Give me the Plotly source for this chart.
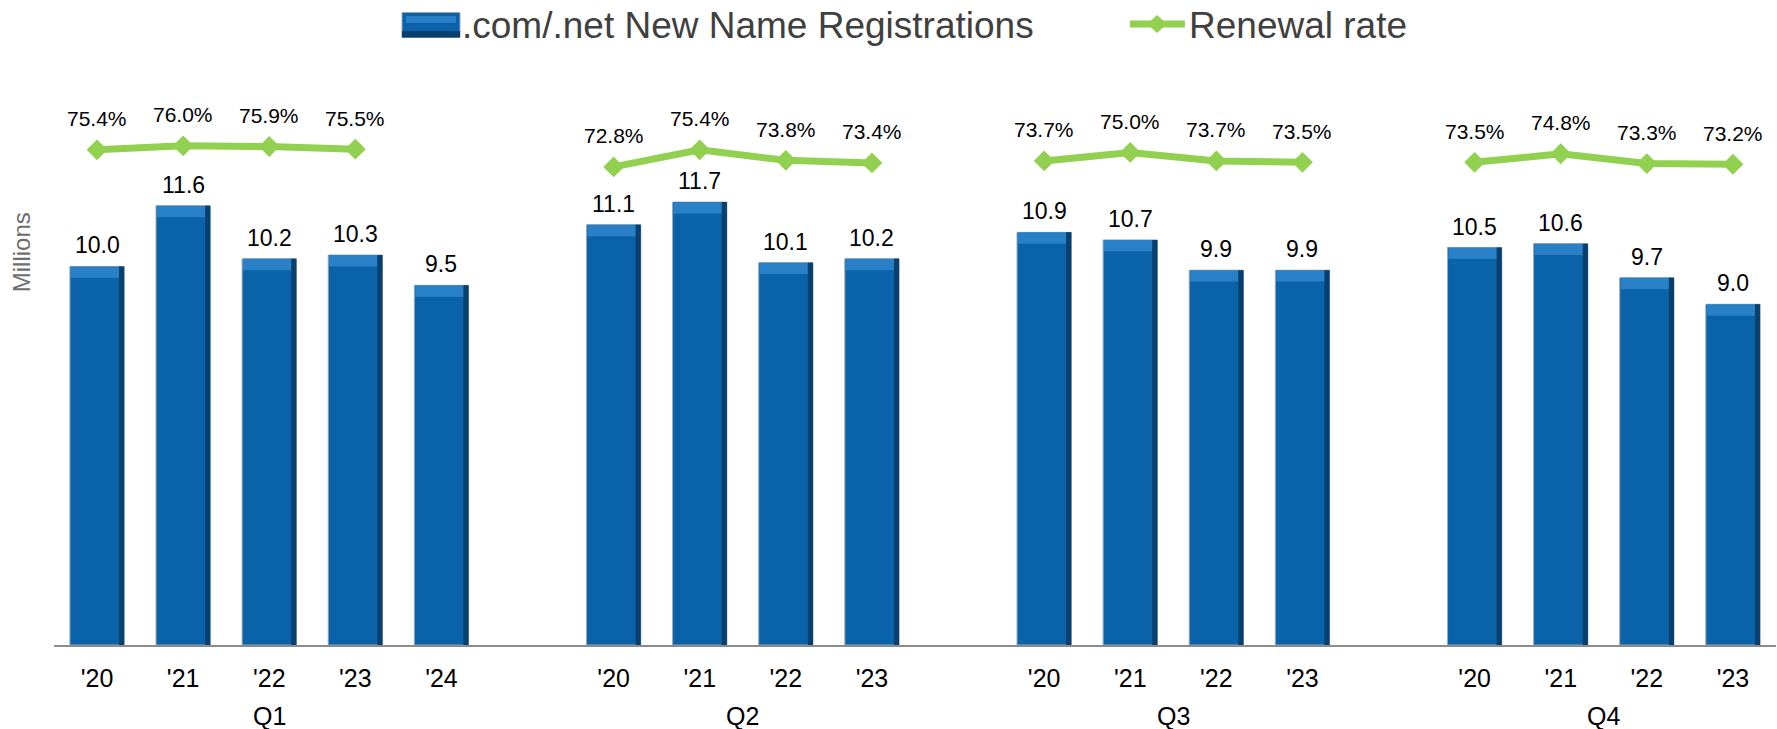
import plotly.graph_objects as go

# ---------------- data ----------------
quarters = ["Q1", "Q2", "Q3", "Q4"]
years_q1 = ["'20", "'21", "'22", "'23", "'24"]
years_q2 = ["'20", "'21", "'22", "'23"]
years_q3 = ["'20", "'21", "'22", "'23"]
years_q4 = ["'20", "'21", "'22", "'23"]

new_regs_q1 = [10.0, 11.6, 10.2, 10.3, 9.5]
new_regs_q2 = [11.1, 11.7, 10.1, 10.2]
new_regs_q3 = [10.9, 10.7, 9.9, 9.9]
new_regs_q4 = [10.5, 10.6, 9.7, 9.0]

renewal_q1 = [75.4, 76.0, 75.9, 75.5, None]
renewal_q2 = [72.8, 75.4, 73.8, 73.4]
renewal_q3 = [73.7, 75.0, 73.7, 73.5]
renewal_q4 = [73.5, 74.8, 73.3, 73.2]

bar_name = ".com/.net New Name Registrations"
line_name = "Renewal rate"
y_title = "Millions"

# ---------------- layout of category slots ----------------
groups = [
    (years_q1, new_regs_q1, renewal_q1),
    (years_q2, new_regs_q2, renewal_q2),
    (years_q3, new_regs_q3, renewal_q3),
    (years_q4, new_regs_q4, renewal_q4),
]
GAP = 1
xs, tick_text, bar_vals, line_x, line_y = [], [], [], [], []
group_slots = []
pos = 0
for gi, (yrs, vals, ren) in enumerate(groups):
    slots = []
    for yr, v, r in zip(yrs, vals, ren):
        xs.append(pos)
        tick_text.append(yr)
        bar_vals.append(v)
        line_x.append(pos)
        line_y.append(r)
        slots.append(pos)
        pos += 1
    group_slots.append(slots)
    line_x.append(pos)          # break the line between quarters
    line_y.append(None)
    pos += GAP
n_slots = pos - GAP

FONT = "Liberation Sans, Arial, sans-serif"
BAR_W = 0.63
BLUE = "#0A63A9"
LIGHT = "#2A80C6"
DARK = "#073F6E"
GREEN = "#92D050"

W, H = 1777, 729
ML, MR, MT, MB = 54, 1, 115, 84
PW, PH = W - ML - MR, H - MT - MB


def px(xp):
    return (xp - ML) / PW


def py(yp):
    return (H - MB - yp) / PH


fig = go.Figure()

fig.add_trace(go.Bar(
    x=xs, y=bar_vals, name=bar_name, width=BAR_W,
    marker=dict(color=BLUE, line=dict(color="#9AA6B2", width=1)),
    showlegend=False, yaxis="y",
))
BEVEL = 0.3
fig.add_trace(go.Bar(
    x=xs, y=[BEVEL] * len(bar_vals), base=[v - BEVEL for v in bar_vals],
    width=BAR_W - 0.02, marker=dict(color=LIGHT, line=dict(width=0)),
    showlegend=False, hoverinfo="skip", yaxis="y",
))
EDGE = 0.06
fig.add_trace(go.Bar(
    x=xs, y=bar_vals, width=EDGE, offset=BAR_W / 2 - EDGE,
    marker=dict(color=DARK, line=dict(width=0)),
    showlegend=False, hoverinfo="skip", yaxis="y",
))

fig.add_trace(go.Scatter(
    x=line_x, y=line_y, name=line_name, mode="lines+markers",
    line=dict(color=GREEN, width=7),
    marker=dict(symbol="diamond", size=16, color=GREEN),
    connectgaps=False, showlegend=False, yaxis="y2",
))

annotations = []
for x, v in zip(xs, bar_vals):
    annotations.append(dict(
        x=x, y=v, xref="x", yref="y", text=f"{v:.1f}", showarrow=False,
        yshift=21, font=dict(family=FONT, size=23, color="#000000"),
    ))
for x, r in zip(line_x, line_y):
    if r is None:
        continue
    annotations.append(dict(
        x=x, y=r, xref="x", yref="y2", text=f"{r:.1f}%", showarrow=False,
        yshift=31, font=dict(family=FONT, size=21, color="#000000"),
    ))
q_label_x = [sum(s) / len(s) for s in group_slots]
for q, qx in zip(quarters, q_label_x):
    annotations.append(dict(
        x=qx, y=0, xref="x", yref="y", text=q, showarrow=False,
        yshift=-71, font=dict(family=FONT, size=25, color="#000000"),
    ))
annotations.append(dict(
    x=px(21.7), y=py(252.5), xref="paper", yref="paper", text=y_title,
    showarrow=False, textangle=-90, xanchor="center", yanchor="middle",
    font=dict(family=FONT, size=24, color="#6E6E6E"),
))

# ---------------- legend (drawn) ----------------
LEG_Y = 25.5
annotations.append(dict(
    x=px(460), y=py(LEG_Y), xref="paper", yref="paper", text=bar_name,
    showarrow=False, xanchor="left", yanchor="middle",
    font=dict(family=FONT, size=37, color="#404040"),
))
annotations.append(dict(
    x=px(1187), y=py(LEG_Y), xref="paper", yref="paper", text=line_name,
    showarrow=False, xanchor="left", yanchor="middle",
    font=dict(family=FONT, size=37, color="#404040"),
))
shapes = [
    dict(type="rect", xref="paper", yref="paper",
         x0=px(402), x1=px(460), y0=py(37.5), y1=py(12.5),
         fillcolor=BLUE, line=dict(color="#9AA6B2", width=1)),
    dict(type="rect", xref="paper", yref="paper",
         x0=px(406), x1=px(456), y0=py(23), y1=py(16),
         fillcolor=LIGHT, line=dict(width=0)),
    dict(type="rect", xref="paper", yref="paper",
         x0=px(402), x1=px(460), y0=py(37.5), y1=py(31),
         fillcolor=DARK, line=dict(width=0)),
    dict(type="line", xref="paper", yref="paper",
         x0=px(1130), x1=px(1185), y0=py(24), y1=py(24),
         line=dict(color=GREEN, width=7)),
    dict(type="path", xref="paper", yref="paper",
         path=(f"M {px(1147)} {py(24)} L {px(1157)} {py(15)} "
               f"L {px(1167)} {py(24)} L {px(1157)} {py(33)} Z"),
         fillcolor=GREEN, line=dict(width=0)),
]

fig.update_layout(
    width=W, height=H,
    margin=dict(l=ML, r=MR, t=MT, b=MB, autoexpand=False),
    paper_bgcolor="white", plot_bgcolor="white",
    barmode="overlay",
    font=dict(family=FONT, color="#000000"),
    showlegend=False,
    xaxis=dict(
        range=[-0.5, n_slots - 0.5],
        tickmode="array", tickvals=xs, ticktext=tick_text,
        tickfont=dict(family=FONT, size=25, color="#000000"),
        showline=True, linecolor="#8C8C8C", linewidth=2,
        ticks="outside", ticklen=10, tickcolor="rgba(0,0,0,0)",
        showgrid=False, zeroline=False, fixedrange=True,
    ),
    yaxis=dict(
        range=[0, 14], showticklabels=False, showgrid=False,
        zeroline=False, showline=False, ticks="",
    ),
    yaxis2=dict(
        range=[0, 80.7], overlaying="y", side="right",
        showticklabels=False, showgrid=False, zeroline=False,
        showline=False, ticks="",
    ),
    annotations=annotations,
    shapes=shapes,
)

fig.write_html(
    "out.html",
    config={"displayModeBar": False},
    post_script="document.body.style.margin='0px';document.body.style.overflow='hidden';",
)
